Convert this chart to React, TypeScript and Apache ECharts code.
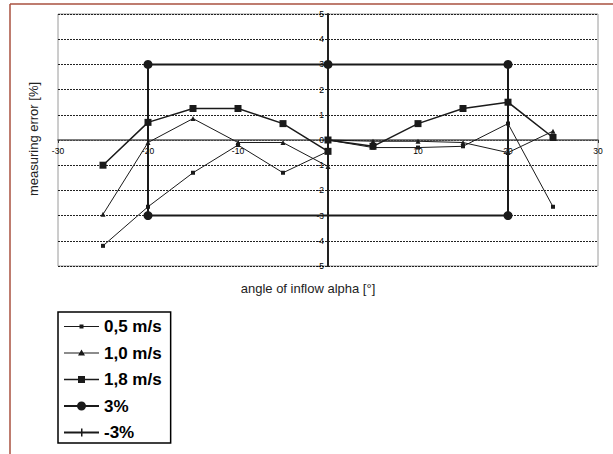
import React, { useEffect, useRef } from "react";
import * as echarts from "echarts";

// ---- data ----
const seriesNames = ["0,5 m/s", "1,0 m/s", "1,8 m/s", "3%", "-3%"];
const angles = [-25, -20, -15, -10, -5, 0, 0, 5, 10, 15, 20, 25];
const v05 = [-4.2, -2.65, -1.3, -0.2, -1.3, -0.45, 0, -0.3, -0.3, -0.25, 0.65, -2.65];
const v10 = [-2.95, -0.1, 0.85, -0.1, -0.1, -1.05, 0, -0.05, -0.05, -0.1, -0.5, 0.35];
const v18 = [-1.0, 0.7, 1.25, 1.25, 0.65, -0.45, 0, -0.25, 0.65, 1.25, 1.5, 0.1];
const upperX = [-20, -20, 0, 20, 20];
const upperY = [-3, 3, 3, 3, -3];
const lowerX = [-20, 0, 20];
const lowerY = [-3, -3, -3];
const xTicks = [-30, -20, -10, 0, 10, 20, 30];

const pairs = (xs: number[], ys: number[]) => xs.map((x, i) => [x, ys[i]]);

const FONT = "'Liberation Sans', Arial, Helvetica, sans-serif";
const INK = "#1a1a1a";

// plot geometry
const GL = 58, GT = 14, GW = 540, GH = 252;

// legend icons: line + marker, box 35 x 12
const BOX = "M0 0 M35 12 ";
const icons = [
  BOX + "M0 5.5 H35 V6.5 H0 Z M15.5 4 H19.5 V8 H15.5 Z",
  BOX + "M0 5.5 H35 V6.5 H0 Z M17.5 2.5 L21 8.5 L14 8.5 Z",
  BOX + "M0 5.25 H35 V6.75 H0 Z M14 2.5 H21 V9.5 H14 Z",
  BOX + "M0 5 H35 V7 H0 Z M13 6 A4.5 4.5 0 1 1 22 6 A4.5 4.5 0 1 1 13 6 Z",
  BOX + "M0 5 H35 V7 H0 Z M17 2 H18.5 V10 H17 Z",
];

export default function App() {
  const ref = useRef<HTMLDivElement>(null);
  useEffect(() => {
    if (!ref.current) return;
    const chart = echarts.init(ref.current, undefined, { renderer: "svg" });
    const option: any = {
      animation: false,
      backgroundColor: "#ffffff",
      grid: {
        left: GL,
        top: GT,
        width: GW,
        height: GH,
        show: true,
        borderColor: "#9a9a9a",
        borderWidth: 1,
        backgroundColor: "transparent",
      },
      xAxis: {
        type: "value",
        min: -30,
        max: 30,
        interval: 10,
        position: "bottom",
        offset: -GH / 2,
        axisLine: { onZero: false, lineStyle: { color: "#555", width: 1.5 } },
        axisTick: { show: true, length: 3, lineStyle: { color: "#333" } },
        axisLabel: {
          fontSize: 8.5,
          color: "#000",
          fontFamily: FONT,
          margin: 6,
          formatter: (v: number) => (xTicks.includes(v) && v !== 0 ? String(v) : ""),
        },
        splitLine: { show: false },
      },
      yAxis: {
        type: "value",
        min: -5,
        max: 5,
        interval: 1,
        position: "left",
        offset: -GW / 2,
        axisLine: { onZero: false, lineStyle: { color: "#222", width: 2 } },
        axisTick: { show: true, length: 3, lineStyle: { color: "#222" } },
        axisLabel: { fontSize: 8.5, color: "#000", fontFamily: FONT, margin: 4 },
        splitLine: { show: true, lineStyle: { color: "#222", width: 1, type: [2, 1] } },
      },
      legend: {
        orient: "vertical",
        left: 58,
        top: 312,
        padding: [6, 9, 2, 6],
        itemGap: 9.5,
        itemWidth: 35,
        itemHeight: 12,
        borderColor: "#000",
        borderWidth: 1.5,
        backgroundColor: "#fff",
        selectedMode: false,
        textStyle: { fontSize: 17, fontWeight: "bold", fontFamily: FONT, color: "#000", lineHeight: 17 },
        data: seriesNames.map((n, i) => ({ name: n, icon: "path://" + icons[i] })),
      },
      graphic: [
        { type: "line", shape: { x1: 10, y1: 4, x2: 613, y2: 4 }, style: { stroke: "#a9503f", lineWidth: 1.5 } },
        { type: "line", shape: { x1: 10, y1: 4, x2: 10, y2: 454 }, style: { stroke: "#a9503f", lineWidth: 1.5 } },
        {
          type: "text",
          x: 33,
          y: 139,
          rotation: Math.PI / 2,
          style: { text: "measuring error [%]", fontSize: 13, fontFamily: FONT, fill: "#222", align: "center", verticalAlign: "middle" },
        },
        {
          type: "text",
          x: 308,
          y: 288,
          style: { text: "angle of inflow alpha [°]", fontSize: 13, fontFamily: FONT, fill: "#222", align: "center", verticalAlign: "middle" },
        },
      ],
      series: [
        {
          name: seriesNames[0], type: "line", data: pairs(angles, v05),
          symbol: "rect", symbolSize: 4, color: INK,
          lineStyle: { width: 1, color: INK }, itemStyle: { color: INK },
        },
        {
          name: seriesNames[1], type: "line", data: pairs(angles, v10),
          symbol: "triangle", symbolSize: 5, color: INK,
          lineStyle: { width: 1, color: INK }, itemStyle: { color: INK },
        },
        {
          name: seriesNames[2], type: "line", data: pairs(angles, v18),
          symbol: "rect", symbolSize: 7, color: INK,
          lineStyle: { width: 1.5, color: INK }, itemStyle: { color: INK },
        },
        {
          name: seriesNames[3], type: "line", data: pairs(upperX, upperY),
          symbol: "circle", symbolSize: 9, color: INK,
          lineStyle: { width: 2, color: INK }, itemStyle: { color: INK },
        },
        {
          name: seriesNames[4], type: "line", data: pairs(lowerX, lowerY),
          symbol: "rect", symbolSize: [1.5, 7], color: INK,
          lineStyle: { width: 2, color: INK }, itemStyle: { color: INK },
        },
      ],
    };
    chart.setOption(option);
    return () => chart.dispose();
  }, []);
  return (
    <div
      ref={ref}
      style={{ position: "fixed", left: 0, top: 0, width: 613, height: 454, background: "#fff" }}
    />
  );
}
